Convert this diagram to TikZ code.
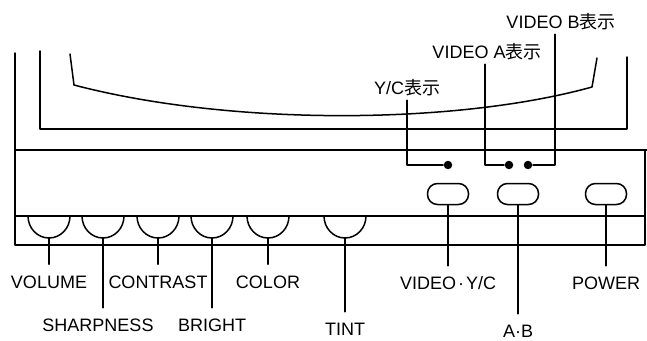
\documentclass[tikz,border=0pt]{standalone}
\usepackage{fontspec}
\setmainfont{Liberation Sans}
\newfontfamily\jpfont{Noto Sans CJK JP}
\usetikzlibrary{arrows}

\begin{document}
\begin{tikzpicture}[line cap=round,line join=round,x=1pt,y=-1pt,line width=1.5pt,
  lbl/.style={font=\fontsize{18}{20}\selectfont,inner xsep=0pt,inner ysep=10pt,text height=13pt,text depth=0pt},
  toplbl/.style={lbl,inner ysep=5pt},
  lamp/.style={circle,fill=black,inner sep=0pt,minimum size=8.5pt},
  btn/.style={draw,rounded corners=10pt,minimum width=41pt,minimum height=21pt,inner sep=0pt}]
\useasboundingbox (0,0) rectangle (647,340);
\draw (15,53) -- (15,245) -- (645,245) -- (645,150);
\draw (15,150) -- (647,150);
\draw (15,216) -- (645,216);
\draw (40,51) -- (40,129) -- (627,129) -- (627,57);
\draw (70,54) -- (74,85) .. controls (230,126) and (455,125) .. (592,87) -- (597,58);
\draw (28,216) arc (180:0:21 and 22);
\draw (82,216) arc (180:0:21 and 22);
\draw (137,216) arc (180:0:21 and 22);
\draw (191,216) arc (180:0:21 and 22);
\draw (247,216) arc (180:0:21 and 22);
\draw (324,216) arc (180:0:21 and 22);
\coordinate (kvolume) at (49,238);
\coordinate (ksharpness) at (103,238);
\coordinate (kcontrast) at (158,238);
\coordinate (kbright) at (212,238);
\coordinate (kcolor) at (268,238);
\coordinate (ktint) at (345,238);
\node[btn] (bvideo) at (448,194) {};
\node[btn] (bab) at (518,194) {};
\node[btn] (bpower) at (606,194) {};
\node[lbl] (volume) at (49,281.5) {VOLUME};
\node[lbl] (sharpness) at (98,325) {SHARPNESS};
\node[lbl] (contrast) at (158,281.5) {CONTRAST};
\node[lbl] (bright) at (212,325) {BRIGHT};
\node[lbl] (color) at (268,281.5) {COLOR};
\node[lbl] (tint) at (345,329) {TINT};
\node[lbl] (videoyc) at (448,283) {VIDEO\kern2pt·\kern2pt Y/C};
\node[lbl] (ab) at (518,331) {A·B};
\node[lbl] (power) at (606,283) {POWER};
\draw (kvolume) -- (volume);
\draw (ksharpness) -- (ksharpness |- sharpness.north);
\draw (kcontrast) -- (contrast);
\draw (kbright) -- (bright);
\draw (kcolor) -- (color);
\draw (ktint) -- (tint);
\draw (bvideo) -- (videoyc);
\draw (bab) -- (ab);
\draw (bpower) -- (power);
\node[lamp] (lyc) at (448,165) {};
\node[lamp] (la) at (509,165) {};
\node[lamp] (lb) at (528,165) {};
\node[toplbl] (yclbl) at (407,88) {Y/C{\jpfont 表示}};
\node[toplbl] (valbl) at (487,52) {VIDEO A{\jpfont 表示}};
\node[toplbl] (vblbl) at (561,22) {VIDEO B{\jpfont 表示}};
\draw (lyc) -| (yclbl.south);
\draw (la) -| ([xshift=-2pt]valbl.south);
\draw (lb) -| ([xshift=-6pt]vblbl.south);
\end{tikzpicture}
\end{document}
